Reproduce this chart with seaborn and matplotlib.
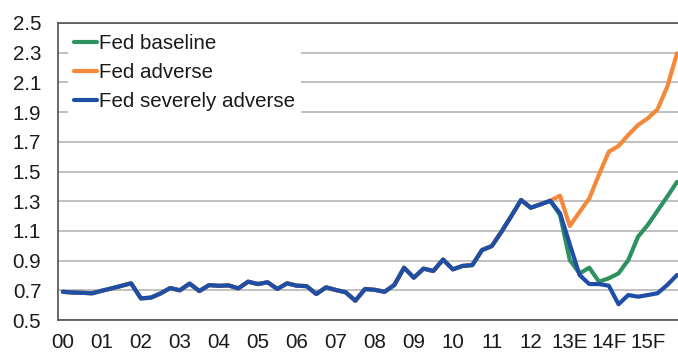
import numpy as np
import pandas as pd
import matplotlib
matplotlib.use("Agg")
import matplotlib.pyplot as plt
import seaborn as sns

# ---- data -------------------------------------------------------------
year_labels = ["00", "01", "02", "03", "04", "05", "06", "07", "08", "09",
               "10", "11", "12", "13E", "14F", "15F"]

# shared history, 2000Q1 .. 2012Q3
history = [0.690, 0.685, 0.683, 0.680, 0.697, 0.713, 0.730, 0.747,
           0.646, 0.650, 0.678, 0.715, 0.700, 0.745, 0.695, 0.735,
           0.730, 0.733, 0.713, 0.758, 0.742, 0.754, 0.709, 0.747,
           0.731, 0.728, 0.675, 0.720, 0.702, 0.687, 0.630, 0.709,
           0.703, 0.690, 0.736, 0.852, 0.785, 0.846, 0.830, 0.907,
           0.841, 0.864, 0.870, 0.971, 0.998, 1.095, 1.200, 1.308,
           1.256, 1.279, 1.303]

# projections, 2012Q4 .. 2015Q4
baseline = [1.207, 0.904, 0.814, 0.852, 0.758, 0.781, 0.814, 0.904,
            1.061, 1.140, 1.236, 1.331, 1.430]
adverse = [1.337, 1.133, 1.227, 1.319, 1.480, 1.633, 1.672, 1.746,
           1.813, 1.858, 1.919, 2.071, 2.296]
severely_adverse = [1.218, 1.010, 0.803, 0.742, 0.742, 0.731, 0.606, 0.668,
                    0.657, 0.668, 0.680, 0.736, 0.803]

series_names = ["Fed baseline", "Fed adverse", "Fed severely adverse"]
series_colors = ["#2E9160", "#F5883A", "#1F4EA6"]

rows = []
for name, proj in zip(series_names, [baseline, adverse, severely_adverse]):
    vals = history + proj
    for i, v in enumerate(vals):
        rows.append({"q": i, "value": v, "series": name})
df = pd.DataFrame(rows)

# ---- plot -------------------------------------------------------------
sns.set_theme(style="white")
plt.rcParams["font.family"] = ["Liberation Sans", "DejaVu Sans"]
plt.rcParams["text.color"] = "#1a1a1a"

FS = 14.8
W, H = 678, 352
fig = plt.figure(figsize=(W / 100, H / 100), dpi=100)
ax = fig.add_axes([58 / W, 32 / H, 620 / W, 297 / H])

sns.lineplot(data=df, x="q", y="value", hue="series", hue_order=series_names,
             palette=dict(zip(series_names, series_colors)), linewidth=3.0,
             ax=ax, legend=True, zorder=3)

ax.set_xlim(-0.5, 63.1)
ax.set_ylim(0.5, 2.5)
yt = np.round(np.arange(0.5, 2.51, 0.2), 1)
ax.set_yticks(yt)
ax.set_yticklabels([f"{v:.1f}" for v in yt])
ax.yaxis.grid(True, color="#AFAFAF", linewidth=1.1)
ax.xaxis.grid(False)

n_years = len(year_labels)
ax.set_xticks([4 * k - 0.5 for k in range(n_years)])
ax.set_xticklabels([])
ax.set_xticks([4 * k for k in range(n_years)], minor=True)
ax.set_xticklabels(year_labels, minor=True)
ax.tick_params(axis="x", which="major", direction="inout", length=11,
               width=1, color="#555555")
ax.tick_params(axis="x", which="minor", length=0, pad=9,
               labelsize=FS, labelcolor="#1a1a1a")
ax.tick_params(axis="y", direction="out", length=5, width=1,
               color="#555555", pad=7, labelsize=FS, labelcolor="#1a1a1a")
ax.set_xlabel("")
ax.set_ylabel("")

for side in ["left", "bottom", "top"]:
    ax.spines[side].set_visible(True)
    ax.spines[side].set_color("#505050")
    ax.spines[side].set_linewidth(1.2)
ax.spines["right"].set_visible(False)

handles, labels = ax.get_legend_handles_labels()
leg = ax.legend(handles, labels, loc="upper left",
                bbox_to_anchor=(10 / 620, 1 - 5 / 297),
                frameon=True, facecolor="white", edgecolor="none",
                framealpha=1, fancybox=False, fontsize=FS,
                handlelength=1.1, handletextpad=0.1, labelspacing=0.48,
                borderpad=0.3, borderaxespad=0.0)
for line in leg.get_lines():
    line.set_linewidth(3.0)
leg.set_zorder(5)

fig.savefig("out.png", dpi=100)
